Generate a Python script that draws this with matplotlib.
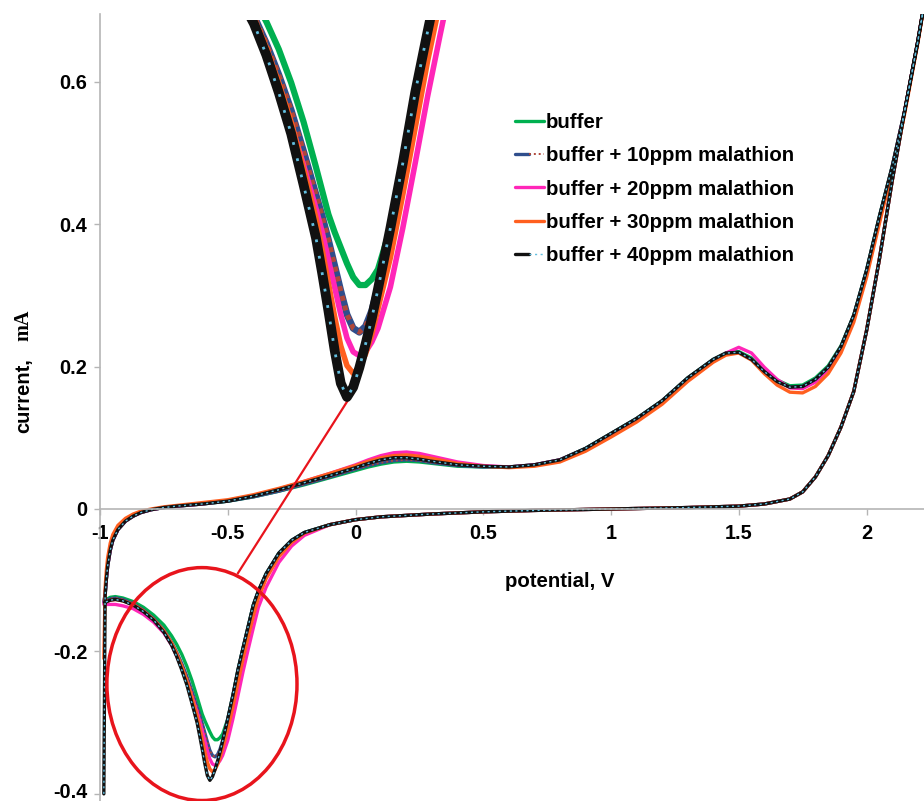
import matplotlib
matplotlib.use('Agg')
import matplotlib.pyplot as plt
from matplotlib.patches import Ellipse
from matplotlib.legend_handler import HandlerTuple
from matplotlib.transforms import ScaledTranslation

plt.rcParams['font.family'] = ['Liberation Sans', 'DejaVu Sans']
plt.rcParams['font.weight'] = 'bold'
plt.rcParams['axes.unicode_minus'] = False

# ---- data (potential in V, current in mA) ----
series_labels = ['buffer', 'buffer + 10ppm malathion', 'buffer + 20ppm malathion',
                 'buffer + 30ppm malathion', 'buffer + 40ppm malathion']

# forward (anodic) scan
E_fwd = [-0.985, -0.98, -0.975, -0.97, -0.96, -0.95, -0.93, -0.9, -0.87, -0.84,
         -0.8, -0.75, -0.7, -0.6, -0.5, -0.4, -0.3, -0.2, -0.1, 0.0,
         0.05, 0.1, 0.15, 0.2, 0.25, 0.3, 0.4, 0.5, 0.6, 0.7,
         0.8, 0.9, 1.0, 1.1, 1.2, 1.3, 1.4, 1.45, 1.5, 1.55,
         1.6, 1.65, 1.7, 1.75, 1.8, 1.85, 1.9, 1.95, 2.0, 2.05,
         2.1, 2.15, 2.2, 2.25]

i_fwd_buffer = [-0.131, -0.120, -0.098, -0.080, -0.058, -0.044, -0.029, -0.017, -0.010, -0.005,
                -0.001, 0.002, 0.004, 0.007, 0.011, 0.017, 0.025, 0.034, 0.044, 0.054,
                0.059, 0.063, 0.066, 0.067, 0.066, 0.064, 0.060, 0.059, 0.059, 0.062,
                0.069, 0.085, 0.106, 0.127, 0.152, 0.184, 0.210, 0.219, 0.221, 0.212,
                0.195, 0.181, 0.173, 0.174, 0.184, 0.201, 0.229, 0.272, 0.335, 0.410,
                0.480, 0.560, 0.655, 0.760]
i_fwd_10ppm = [-0.131, -0.120, -0.098, -0.080, -0.058, -0.044, -0.029, -0.017, -0.010, -0.005,
               -0.001, 0.002, 0.004, 0.007, 0.011, 0.017, 0.025, 0.035, 0.045, 0.056,
               0.061, 0.065, 0.068, 0.069, 0.068, 0.065, 0.061, 0.059, 0.059, 0.062,
               0.069, 0.085, 0.106, 0.127, 0.152, 0.184, 0.210, 0.219, 0.220, 0.210,
               0.193, 0.179, 0.171, 0.172, 0.182, 0.199, 0.228, 0.272, 0.335, 0.410,
               0.480, 0.560, 0.655, 0.760]
i_fwd_20ppm = [-0.134, -0.120, -0.098, -0.080, -0.058, -0.044, -0.029, -0.017, -0.010, -0.005,
               -0.001, 0.002, 0.004, 0.007, 0.012, 0.019, 0.028, 0.039, 0.050, 0.062,
               0.069, 0.075, 0.079, 0.080, 0.078, 0.074, 0.066, 0.061, 0.059, 0.062,
               0.069, 0.084, 0.104, 0.125, 0.149, 0.180, 0.207, 0.219, 0.227, 0.219,
               0.199, 0.182, 0.170, 0.169, 0.178, 0.196, 0.225, 0.268, 0.330, 0.405,
               0.478, 0.560, 0.655, 0.760]
i_fwd_30ppm = [-0.210, -0.110, -0.085, -0.068, -0.048, -0.036, -0.023, -0.013, -0.007, -0.003,
               0.000, 0.003, 0.005, 0.009, 0.013, 0.020, 0.029, 0.039, 0.050, 0.061,
               0.067, 0.072, 0.075, 0.076, 0.074, 0.071, 0.064, 0.060, 0.058, 0.060,
               0.066, 0.081, 0.101, 0.122, 0.147, 0.179, 0.206, 0.216, 0.219, 0.209,
               0.190, 0.174, 0.164, 0.163, 0.172, 0.190, 0.219, 0.262, 0.325, 0.400,
               0.474, 0.556, 0.652, 0.760]
i_fwd_40ppm = [-0.400, -0.122, -0.098, -0.080, -0.058, -0.044, -0.029, -0.017, -0.010, -0.005,
               -0.001, 0.002, 0.004, 0.007, 0.011, 0.018, 0.027, 0.037, 0.047, 0.058,
               0.064, 0.069, 0.072, 0.072, 0.070, 0.067, 0.062, 0.060, 0.059, 0.062,
               0.069, 0.085, 0.106, 0.127, 0.152, 0.184, 0.210, 0.219, 0.220, 0.210,
               0.193, 0.179, 0.171, 0.172, 0.182, 0.199, 0.228, 0.272, 0.335, 0.410,
               0.480, 0.560, 0.655, 0.760]

# reverse scan, upper part (all five traces coincide here)
E_rev_high = [2.25, 2.2, 2.15, 2.1, 2.05, 2.0, 1.95, 1.9, 1.85, 1.8, 1.75,
              1.7, 1.6, 1.5, 1.3, 1.0, 0.7, 0.5, 0.3, 0.1, 0.0, -0.1]
i_rev_high = [0.760, 0.655, 0.560, 0.460, 0.350, 0.250, 0.165, 0.115, 0.075, 0.045, 0.024,
              0.014, 0.007, 0.004, 0.002, 0.000, -0.002, -0.004, -0.007, -0.011, -0.015, -0.022]

# reverse scan, cathodic peak region
E_rev_low = [-0.2, -0.25, -0.3, -0.35, -0.38, -0.4, -0.42, -0.44, -0.46, -0.48,
             -0.5, -0.52, -0.53, -0.54, -0.55, -0.56, -0.57, -0.58, -0.59, -0.6,
             -0.61, -0.62, -0.64, -0.66, -0.68, -0.7, -0.72, -0.75, -0.79, -0.83,
             -0.87, -0.91, -0.94, -0.96, -0.98]
i_rev_buffer = [-0.033, -0.044, -0.062, -0.091, -0.115, -0.135, -0.165, -0.195, -0.226, -0.262,
                -0.295, -0.316, -0.321, -0.324, -0.324, -0.320, -0.313, -0.305, -0.297, -0.288,
                -0.276, -0.264, -0.241, -0.221, -0.204, -0.190, -0.178, -0.163, -0.149, -0.138,
                -0.130, -0.125, -0.123, -0.124, -0.128]
i_rev_10ppm = [-0.033, -0.044, -0.062, -0.091, -0.115, -0.135, -0.165, -0.195, -0.226, -0.262,
               -0.295, -0.325, -0.337, -0.345, -0.348, -0.346, -0.339, -0.327, -0.314, -0.301,
               -0.289, -0.278, -0.256, -0.235, -0.217, -0.201, -0.187, -0.170, -0.154, -0.142,
               -0.133, -0.127, -0.125, -0.126, -0.129]
i_rev_20ppm = [-0.037, -0.052, -0.075, -0.110, -0.138, -0.167, -0.197, -0.228, -0.262, -0.295,
               -0.325, -0.346, -0.353, -0.358, -0.360, -0.358, -0.351, -0.339, -0.325, -0.311,
               -0.297, -0.285, -0.263, -0.242, -0.223, -0.206, -0.191, -0.174, -0.159, -0.148,
               -0.140, -0.136, -0.134, -0.134, -0.134]
i_rev_30ppm = [-0.034, -0.047, -0.067, -0.098, -0.125, -0.150, -0.180, -0.210, -0.244, -0.278,
               -0.310, -0.336, -0.349, -0.359, -0.366, -0.369, -0.365, -0.355, -0.340, -0.323,
               -0.306, -0.290, -0.265, -0.241, -0.221, -0.203, -0.188, -0.171, -0.155, -0.143,
               -0.134, -0.129, -0.127, -0.128, -0.131]
i_rev_40ppm = [-0.033, -0.044, -0.062, -0.091, -0.115, -0.135, -0.165, -0.195, -0.226, -0.262,
               -0.295, -0.326, -0.341, -0.354, -0.366, -0.376, -0.381, -0.374, -0.357, -0.337,
               -0.318, -0.300, -0.273, -0.247, -0.226, -0.207, -0.191, -0.173, -0.156, -0.144,
               -0.135, -0.129, -0.127, -0.128, -0.131]

x_ticks = [-1, -0.5, 0, 0.5, 1, 1.5, 2]
x_tick_labels = ['-1', '-0.5', '0', '0.5', '1', '1.5', '2']
y_ticks = [-0.4, -0.2, 0, 0.2, 0.4, 0.6]
y_tick_labels = ['-0.4', '-0.2', '0', '0.2', '0.4', '0.6']

fwd_currents = [i_fwd_buffer, i_fwd_10ppm, i_fwd_20ppm, i_fwd_30ppm, i_fwd_40ppm]
rev_currents = [i_rev_buffer, i_rev_10ppm, i_rev_20ppm, i_rev_30ppm, i_rev_40ppm]
colors = ['#00b050', '#2f4e8c', '#ff26b8', '#ff5f1f', '#111111']
dot_colors = [None, '#b0473a', None, None, '#62bfe0']

E_all = E_fwd + E_rev_high + E_rev_low

fig = plt.figure(figsize=(9.24, 8.01), dpi=100)
ax = fig.add_axes([100 / 924, 0, 824 / 924, 787 / 801])
ax.set_xlim(-1, 2.225)
ax.set_ylim(-0.410, 0.695)


def draw_traces(axis, lw, dot_lw, dot_dash, dot_lw_navy, navy_dash):
    handles = []
    for k in range(5):
        cur = fwd_currents[k] + i_rev_high + rev_currents[k]
        base, = axis.plot(E_all, cur, color=colors[k], lw=lw[k],
                          solid_joinstyle='round', solid_capstyle='round')
        if dot_colors[k] is None:
            handles.append(base)
            continue
        if k == 1:
            dots, = axis.plot(E_all, cur, color=dot_colors[k], lw=dot_lw_navy,
                              linestyle=(0, navy_dash))
        else:
            dots, = axis.plot(E_all, cur, color=dot_colors[k], lw=dot_lw,
                              linestyle=(0, dot_dash))
        handles.append((base, dots))
    return handles


handles = draw_traces(ax, [2.4, 2.4, 2.4, 2.4, 2.4], 1.0, (1.5, 2.5), 1.4, (1, 1.5))

# axes styling
for side in ['top', 'right']:
    ax.spines[side].set_visible(False)
ax.spines['bottom'].set_position(('data', 0))
for side in ['left', 'bottom']:
    ax.spines[side].set_color('#b5b5b5')
    ax.spines[side].set_linewidth(1.2)
ax.set_xticks(x_ticks)
ax.set_xticklabels(x_tick_labels)
ax.set_yticks(y_ticks)
ax.set_yticklabels(y_tick_labels)
ax.tick_params(direction='out', length=4, width=1, color='#b5b5b5', labelsize=14.3)
ax.tick_params(axis='x', pad=6.5)
ax.tick_params(axis='y', pad=5)
ax.set_facecolor('none')

# keep the lowest y label inside the picture
low_tick = ax.yaxis.get_major_ticks()[0]
low_tick.label1.set_transform(low_tick.label1.get_transform()
                              + ScaledTranslation(0, 2.5 / 72, fig.dpi_scale_trans))

ax.text(0.80, -0.1025, 'potential, V', ha='center', va='center', fontsize=14.7,
        fontweight='bold')

# y label: sans "current," followed by serif "mA"
fig.text(23.5 / 924, 1 - 433 / 801, 'current,', rotation=90, ha='center', va='bottom',
         fontsize=14.5, fontweight='bold')
fig.text(23.5 / 924, 1 - 341 / 801, 'mA', rotation=90, ha='center', va='bottom',
         fontsize=14.5, fontweight='bold', family=['Liberation Serif', 'DejaVu Serif'])

leg = fig.legend(handles, series_labels, loc='upper left',
                 bbox_to_anchor=(515 / 924, 1 - 113 / 801), bbox_transform=fig.transFigure,
                 frameon=False, fontsize=14.7, handlelength=1.4, handletextpad=0.1,
                 labelspacing=0.70, borderpad=0, borderaxespad=0,
                 handler_map={tuple: HandlerTuple(ndivide=None)})

# red highlight of the cathodic peak and the connector to the zoomed view
ax.add_patch(Ellipse((-0.601, -0.2458), 0.744, 0.327, fill=False, edgecolor='#e8141c',
                     lw=2.5, clip_on=False, zorder=6))
ax.plot([-0.029, -0.460], [0.153, -0.090], color='#e8141c', lw=1.6, clip_on=False,
        zorder=6)

# zoomed view of the cathodic peak
axin = fig.add_axes([235 / 924, 1 - 410 / 801, 235 / 924, 390 / 801])
axin.set_xlim(-0.7506, -0.3716)
axin.set_ylim(-0.3876, -0.1891)
axin.axis('off')
draw_traces(axin, [4.5, 5.0, 4.0, 4.0, 7.0], 2.0, (1, 5), 3.6, (1, 1))

fig.savefig('out.png', dpi=100)
